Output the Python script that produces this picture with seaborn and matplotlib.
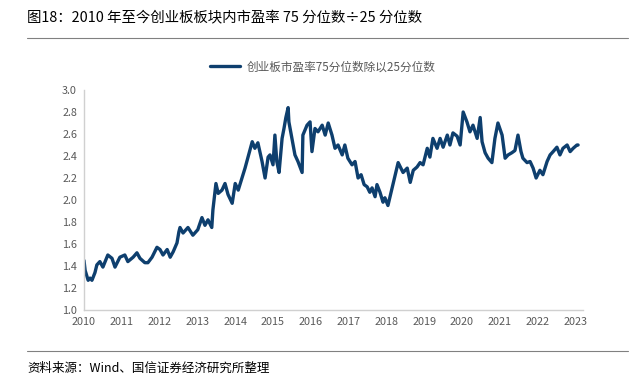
import pandas as pd
import matplotlib.pyplot as plt
import seaborn as sns


# ////////////////DATA (decimal years)

years=[2010.00,2010.03,2010.11,2010.16,2010.21,2010.29,2010.34,2010.42,2010.50,2010.63,
       2010.74,2010.82,2010.95,2011.08,2011.16,2011.30,2011.40,2011.48,2011.61,2011.69,
       2011.80,2011.93,2012.01,2012.09,2012.20,2012.28,2012.36,2012.46,2012.51,2012.54,
       2012.62,2012.75,2012.88,2013.01,2013.12,2013.20,2013.28,2013.38,2013.41,2013.49,
       2013.55,2013.65,2013.73,2013.81,2013.92,2014.00,2014.08,2014.18,2014.26,2014.34,
       2014.45,2014.52,2014.60,2014.71,2014.79,2014.87,2014.92,2015.00,2015.05,2015.10,
       2015.16,2015.24,2015.29,2015.34,2015.40,2015.42,2015.50,2015.58,2015.66,2015.77,
       2015.79,2015.90,2015.98,2016.03,2016.11,2016.19,2016.30,2016.38,2016.46,2016.56,
       2016.64,2016.72,2016.83,2016.90,2016.98,2017.09,2017.17,2017.25,2017.33,2017.41,
       2017.49,2017.56,2017.62,2017.70,2017.75,2017.83,2017.91,2017.96,2018.04,2018.15,
       2018.23,2018.31,2018.44,2018.55,2018.63,2018.71,2018.81,2018.89,2018.97,2019.08,
       2019.15,2019.23,2019.34,2019.42,2019.50,2019.61,2019.68,2019.76,2019.87,2019.95,
       2020.03,2020.13,2020.21,2020.29,2020.40,2020.48,2020.53,2020.61,2020.69,2020.79,
       2020.87,2020.95,2021.06,2021.14,2021.22,2021.32,2021.40,2021.48,2021.56,2021.61,
       2021.72,2021.80,2021.88,2021.96,2022.06,2022.14,2022.25,2022.33,2022.41,2022.51,
       2022.59,2022.67,2022.78,2022.86,2022.94,2023.04,2023.07]

ratio=[1.45,1.36,1.27,1.29,1.27,1.34,1.41,1.44,1.39,1.50,
       1.47,1.39,1.48,1.50,1.44,1.48,1.52,1.47,1.43,1.43,
       1.48,1.57,1.55,1.50,1.55,1.48,1.53,1.61,1.71,1.75,
       1.70,1.75,1.68,1.73,1.84,1.77,1.82,1.75,1.91,2.15,
       2.06,2.09,2.15,2.05,1.97,2.15,2.09,2.20,2.29,2.39,
       2.53,2.47,2.52,2.35,2.20,2.39,2.41,2.32,2.59,2.35,
       2.25,2.56,2.65,2.75,2.84,2.71,2.56,2.41,2.35,2.25,
       2.59,2.68,2.71,2.44,2.65,2.62,2.68,2.59,2.70,2.59,
       2.47,2.50,2.41,2.50,2.38,2.32,2.35,2.20,2.23,2.14,
       2.12,2.07,2.11,2.03,2.14,2.07,1.98,2.02,1.95,2.11,
       2.23,2.34,2.25,2.29,2.16,2.27,2.30,2.34,2.32,2.47,
       2.39,2.56,2.47,2.56,2.48,2.59,2.50,2.61,2.58,2.50,
       2.80,2.71,2.62,2.68,2.56,2.75,2.53,2.43,2.38,2.34,
       2.56,2.70,2.59,2.38,2.41,2.43,2.45,2.59,2.44,2.38,
       2.34,2.35,2.29,2.20,2.27,2.23,2.35,2.41,2.44,2.48,
       2.41,2.47,2.50,2.44,2.47,2.50,2.50]

year_ticks=list(range(2010,2024))
y_ticks=[1.0,1.2,1.4,1.6,1.8,2.0,2.2,2.4,2.6,2.8,3.0]

series_name="创业板市盈率75分位数除以25分位数"
title="图18：2010 年至今创业板板块内市盈率 75 分位数÷25 分位数"
source="资料来源：Wind、国信证券经济研究所整理"

df=pd.DataFrame({"year":years,"ratio":ratio,"series":series_name})


# ////////////////PLOT

sns.set_style("white")
plt.rcParams["font.family"]=["Noto Sans CJK SC","DejaVu Sans"]

fig=plt.figure(figsize=(6.33,3.85),dpi=100)
ax=fig.add_axes([84/633,75/385,(583-84)/633,220/385])

line_color="#0e3f6e"
sns.lineplot(data=df,x="year",y="ratio",hue="series",palette=[line_color],
             linewidth=2.4,ax=ax)

ax.set_xlim(2010,2023.2)
ax.set_ylim(1.0,3.0)
ax.set_xticks(year_ticks)
ax.set_xticklabels([str(y) for y in year_ticks])
ax.set_yticks(y_ticks)
ax.set_yticklabels([f"{v:.1f}" for v in y_ticks])
ax.set_xlabel("")
ax.set_ylabel("")

for s in ["top","right"]:
    ax.spines[s].set_visible(False)
for s in ["left","bottom"]:
    ax.spines[s].set_color("#d0d0d0")
    ax.spines[s].set_linewidth(1.0)
ax.tick_params(axis="both",colors="#d0d0d0",labelcolor="#595959",labelsize=7.8,
               length=3,width=0.8,direction="out",pad=2)

leg=ax.legend(loc="center",bbox_to_anchor=(0.51,0.826),bbox_transform=fig.transFigure,
              frameon=False,fontsize=8.4,handlelength=2.6,handletextpad=0.6)
for t in leg.get_texts():
    t.set_color("#595959")

# title, rules and source note
fig.text(27/633,1-18/385,title,fontsize=10.4,va="center",ha="left",color="#000000")
fig.add_artist(plt.Line2D([27/633,628/633],[1-38/385,1-38/385],color="#808080",linewidth=0.8))
fig.add_artist(plt.Line2D([27/633,628/633],[1-351/385,1-351/385],color="#808080",linewidth=0.8))
fig.text(27/633,1-368/385,source,fontsize=9,va="center",ha="left",color="#000000")

plt.savefig("out.png",dpi=100)
